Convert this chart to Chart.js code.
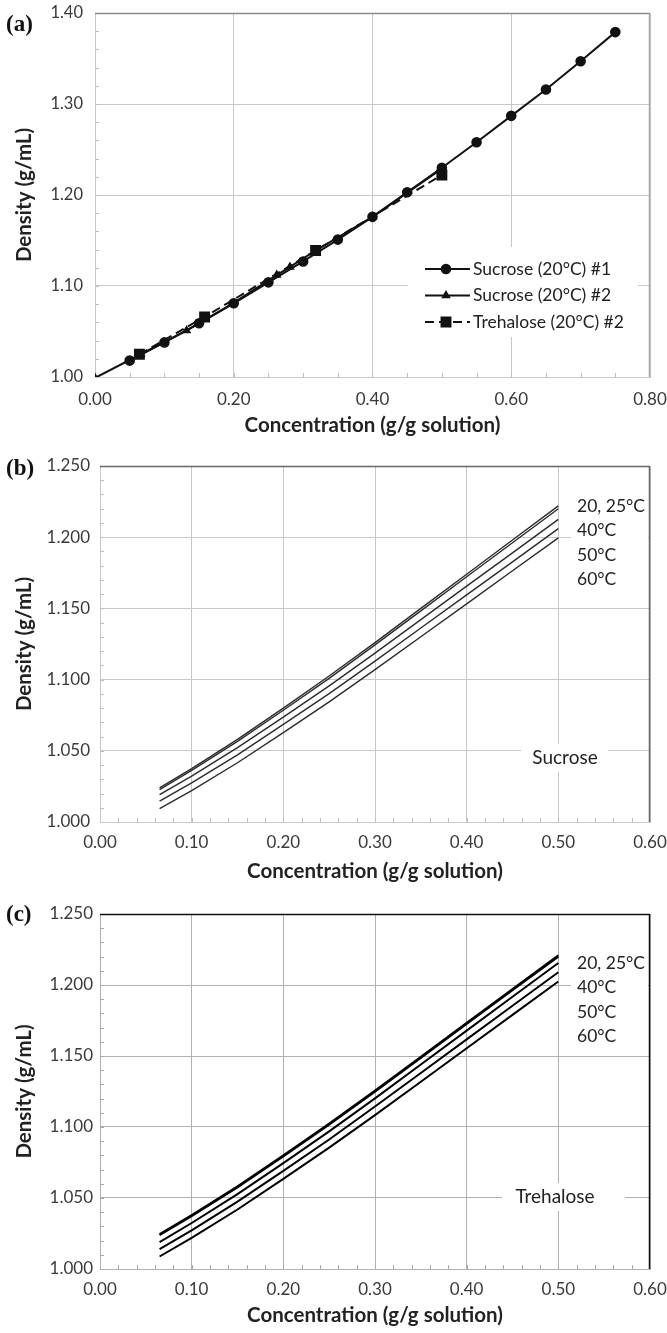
<!DOCTYPE html>
<html>
<head>
<meta charset="utf-8">
<script src="https://cdn.jsdelivr.net/npm/chart.js@4.4.0/dist/chart.umd.min.js"></script>
<style>
  body { margin: 0; background: #fff; width: 667px; height: 1333px; position: relative; overflow: hidden; }
  .panel { position: absolute; left: 0; width: 667px; }
  .tag { position: absolute; left: 6px; font: bold 23px "Liberation Serif", serif; line-height: 23px; color: #111; }
</style>
</head>
<body>
<div class="panel" style="top:0;height:445px"><canvas id="chartA" width="667" height="445"></canvas></div>
<div class="panel" style="top:445px;height:445px"><canvas id="chartB" width="667" height="445"></canvas></div>
<div class="panel" style="top:890px;height:443px"><canvas id="chartC" width="667" height="443"></canvas></div>
<div class="tag" style="top:12px">(a)</div>
<div class="tag" style="top:456px">(b)</div>
<div class="tag" style="top:902px">(c)</div>
<script>
// panel (a): measured points at 20 °C
const concSuc1 = [0.05, 0.10, 0.15, 0.20, 0.25, 0.30, 0.35, 0.40, 0.45, 0.50, 0.55, 0.60, 0.65, 0.70, 0.75];
const densSuc1 = [1.018, 1.038, 1.059, 1.081, 1.104, 1.127, 1.151, 1.176, 1.203, 1.230, 1.258, 1.287, 1.316, 1.347, 1.379];
const concSuc2 = [0, 0.066, 0.132, 0.197, 0.262, 0.281, 0.318, 0.40, 0.50];
const densSuc2 = [0.999, 1.025, 1.051, 1.080, 1.112, 1.121, 1.139, 1.176, 1.229];
const concTre2 = [0.064, 0.158, 0.318, 0.50];
const densTre2 = [1.025, 1.066, 1.139, 1.222];
const legendA = ['Sucrose (20°C) #1', 'Sucrose (20°C) #2', 'Trehalose (20°C) #2'];

// panels (b) and (c): curves at several temperatures
const concCurve = [0.065, 0.10, 0.15, 0.20, 0.25, 0.30, 0.35, 0.40, 0.45, 0.50];
const sucrose20 = [1.0240, 1.0375, 1.0580, 1.0800, 1.1025, 1.1260, 1.1500, 1.1740, 1.1980, 1.2220];
const sucrose25 = [1.0228, 1.0362, 1.0566, 1.0785, 1.1009, 1.1244, 1.1483, 1.1722, 1.1961, 1.2200];
const sucrose40 = [1.0192, 1.0322, 1.0522, 1.0736, 1.0956, 1.1186, 1.1421, 1.1656, 1.1890, 1.2125];
const sucrose50 = [1.0147, 1.0275, 1.0472, 1.0685, 1.0902, 1.1130, 1.1362, 1.1595, 1.1827, 1.2060];
const sucrose60 = [1.0094, 1.0220, 1.0416, 1.0628, 1.0844, 1.1070, 1.1301, 1.1532, 1.1764, 1.1995];
const trehalose20 = [1.0245, 1.0379, 1.0582, 1.0801, 1.1024, 1.1257, 1.1495, 1.1734, 1.1972, 1.2210];
const trehalose25 = [1.0238, 1.0372, 1.0574, 1.0793, 1.1016, 1.1249, 1.1486, 1.1725, 1.1963, 1.2200];
const trehalose40 = [1.0190, 1.0324, 1.0527, 1.0746, 1.0969, 1.1202, 1.1440, 1.1679, 1.1917, 1.2155];
const trehalose50 = [1.0140, 1.0272, 1.0474, 1.0691, 1.0912, 1.1144, 1.1380, 1.1617, 1.1854, 1.2090];
const trehalose60 = [1.0088, 1.0219, 1.0419, 1.0635, 1.0855, 1.1084, 1.1319, 1.1555, 1.1790, 1.2025];
const tempLabels = ['20, 25°C', '40°C', '50°C', '60°C'];

const FONT = 'Lato';
const xTitle = 'Concentration (g/g solution)';
const yTitle = 'Density (g/mL)';

const pts = (xs, ys) => xs.map((x, i) => ({ x: x, y: ys[i] }));

// minor inside ticks, top/right frame, white boxes with labels, legend
const extras = {
  id: 'extras',
  beforeDatasetsDraw(chart, args, o) {
    const { ctx, chartArea: ca, scales: { x, y } } = chart;
    ctx.save();
    ctx.strokeStyle = o.minorColor;
    ctx.lineWidth = 1;
    ctx.beginPath();
    for (let v = x.min + o.xMinor; v < x.max - 1e-9; v += o.xMinor) {
      const px = Math.round(x.getPixelForValue(v)) + 0.5;
      ctx.moveTo(px, ca.bottom);
      ctx.lineTo(px, ca.bottom - 4);
    }
    for (let v = y.min + o.yMinor; v < y.max - 1e-9; v += o.yMinor) {
      const py = Math.round(y.getPixelForValue(v)) + 0.5;
      ctx.moveTo(ca.left, py);
      ctx.lineTo(ca.left + 4, py);
    }
    ctx.stroke();

    (o.boxes || []).forEach(b => {
      ctx.fillStyle = '#fff';
      ctx.fillRect(b.x, b.y, b.w, b.h);
    });
    ctx.fillStyle = '#222';
    ctx.textBaseline = 'middle';
    (o.texts || []).forEach(t => {
      ctx.font = t.size + 'px ' + FONT;
      ctx.textAlign = t.align || 'left';
      ctx.fillText(t.text, t.x, t.y);
    });

    if (o.legend) {
      const lg = o.legend;
      ctx.font = '17.5px ' + FONT;
      ctx.textAlign = 'left';
      chart.data.datasets.forEach((ds, i) => {
        const yy = lg.y + i * lg.gap;
        ctx.strokeStyle = '#111';
        ctx.lineWidth = 2;
        ctx.setLineDash(ds.borderDash || []);
        ctx.beginPath();
        ctx.moveTo(lg.x, yy);
        ctx.lineTo(lg.x + 45, yy);
        ctx.stroke();
        ctx.setLineDash([]);
        ctx.fillStyle = '#111';
        Chart.helpers.drawPoint(ctx, { pointStyle: ds.pointStyle, radius: ds.pointRadius, borderWidth: 1 }, lg.x + 21, yy);
        ctx.fillStyle = '#222';
        ctx.fillText(ds.label, lg.x + 48, yy);
      });
    }
    ctx.restore();
  },
  afterDraw(chart, args, o) {
    const { ctx, chartArea: ca } = chart;
    ctx.save();
    ctx.lineWidth = 1.5;
    ctx.strokeStyle = o.topColor;
    ctx.beginPath();
    ctx.moveTo(ca.left, ca.top + 0.5);
    ctx.lineTo(ca.right, ca.top + 0.5);
    ctx.stroke();
    ctx.strokeStyle = o.rightColor;
    ctx.beginPath();
    ctx.moveTo(ca.right - 0.5, ca.top);
    ctx.lineTo(ca.right - 0.5, ca.bottom);
    ctx.stroke();
    ctx.restore();
  }
};

function makeScales(cfg) {
  return {
    x: {
      type: 'linear', min: cfg.xMin, max: cfg.xMax,
      ticks: { stepSize: cfg.xStep, callback: v => v.toFixed(2), color: '#3a3a3a', font: { family: FONT, size: 17 }, padding: cfg.xPad, maxRotation: 0 },
      grid: { color: cfg.gridColor, drawTicks: false },
      border: { color: cfg.gridColor },
      title: { display: true, text: xTitle, color: '#222', font: { family: FONT, size: 20.5, weight: 'bold' }, padding: { top: 0, bottom: cfg.titlePad } },
      afterFit: s => { s.height = cfg.xHeight; s.paddingLeft = 0; s.paddingRight = 0; }
    },
    y: {
      type: 'linear', min: cfg.yMin, max: cfg.yMax,
      ticks: { stepSize: cfg.yStep, callback: v => v.toFixed(cfg.yDec), color: '#3a3a3a', font: { family: FONT, size: cfg.yFont }, padding: cfg.yPad },
      grid: { color: cfg.gridColor, drawTicks: false },
      border: { color: cfg.gridColor },
      title: { display: true, text: yTitle, color: '#222', font: { family: FONT, size: 20.5, weight: 'bold' }, padding: { top: 12.5, bottom: 0 } },
      afterFit: s => { s.width = cfg.yWidth; s.paddingTop = 0; s.paddingBottom = 0; }
    }
  };
}

const common = {
  responsive: false,
  animation: false,
  plugins: { legend: { display: false }, tooltip: { enabled: false } }
};

// (a)
new Chart(document.getElementById('chartA'), {
  type: 'scatter',
  data: {
    datasets: [
      { label: legendA[0], data: pts(concSuc1, densSuc1), showLine: true, borderColor: '#111', backgroundColor: '#111', borderWidth: 2, pointStyle: 'circle', pointRadius: 4.3 },
      { label: legendA[1], data: pts(concSuc2, densSuc2), showLine: true, borderColor: '#111', backgroundColor: '#111', borderWidth: 2, pointStyle: 'triangle', pointRadius: 3.5 },
      { label: legendA[2], data: pts(concTre2, densTre2), showLine: true, borderColor: '#111', backgroundColor: '#111', borderWidth: 2, borderDash: [9, 5], pointStyle: 'rect', pointRadius: 6.3 }
    ]
  },
  options: Object.assign({}, common, {
    layout: { padding: { top: 13, right: 17, left: 0, bottom: 0 } },
    scales: makeScales({ xMin: 0, xMax: 0.8, xStep: 0.2, yMin: 1.0, yMax: 1.4, yStep: 0.1, yDec: 2, yPad: 12, yFont: 16.5, yWidth: 95, xHeight: 68, xPad: 12, titlePad: 7.5, gridColor: '#c8c8c8' }),
    plugins: Object.assign({}, common.plugins, {
      extras: {
        xMinor: 0.05, yMinor: 0.02, minorColor: '#bdbdbd', topColor: '#8a8a8a', rightColor: '#a8a8a8',
        boxes: [{ x: 408, y: 247, w: 230, h: 90 }],
        legend: { x: 425, y: 269, gap: 26.5 }
      }
    })
  }),
  plugins: [extras]
});

function curveChart(id, series, width, color, cfg, name) {
  new Chart(document.getElementById(id), {
    type: 'scatter',
    data: {
      datasets: series.map(s => ({ data: pts(concCurve, s), showLine: true, borderColor: color, borderWidth: width, pointRadius: 0 }))
    },
    options: Object.assign({}, common, {
      layout: { padding: { top: cfg.top, right: 17, left: 0, bottom: 0 } },
      scales: makeScales({ xMin: 0, xMax: 0.6, xStep: 0.1, yMin: 1.0, yMax: 1.25, yStep: 0.05, yDec: 3, yPad: cfg.yPad, yFont: 17, yWidth: 100, xHeight: cfg.xHeight, xPad: 10, titlePad: cfg.titlePad, gridColor: cfg.grid }),
      plugins: Object.assign({}, common.plugins, {
        extras: {
          xMinor: 0.02, yMinor: 0.01, minorColor: cfg.minor, topColor: cfg.frame, rightColor: cfg.frame,
          boxes: [{ x: 571, y: cfg.labY - 12, w: 77, h: 98 }, cfg.nameBox],
          texts: tempLabels.map((t, i) => ({ text: t, x: 577, y: cfg.labY + i * 24.5, size: 17.5 }))
            .concat([{ text: name, x: cfg.nameX, y: cfg.nameY, align: 'center', size: 19 }])
        }
      })
    }),
    plugins: [extras]
  });
}

curveChart('chartB', [sucrose20, sucrose25, sucrose40, sucrose50, sucrose60], 1.4, '#2b2b2b',
  { top: 21, yPad: 10, xHeight: 68, titlePad: 6.5, grid: '#c8c8c8', minor: '#bdbdbd', frame: '#666', labY: 61, nameBox: { x: 521, y: 299, w: 87, h: 28 }, nameX: 565, nameY: 313 }, 'Sucrose');
curveChart('chartC', [trehalose20, trehalose25, trehalose40, trehalose50, trehalose60], 2, '#000',
  { top: 24, yPad: 7, xHeight: 64, titlePad: 5.5, grid: '#b0b0b0', minor: '#a8a8a8', frame: '#111', labY: 73, nameBox: { x: 502, y: 293, w: 123, h: 28 }, nameX: 555, nameY: 307 }, 'Trehalose');
</script>
</body>
</html>
